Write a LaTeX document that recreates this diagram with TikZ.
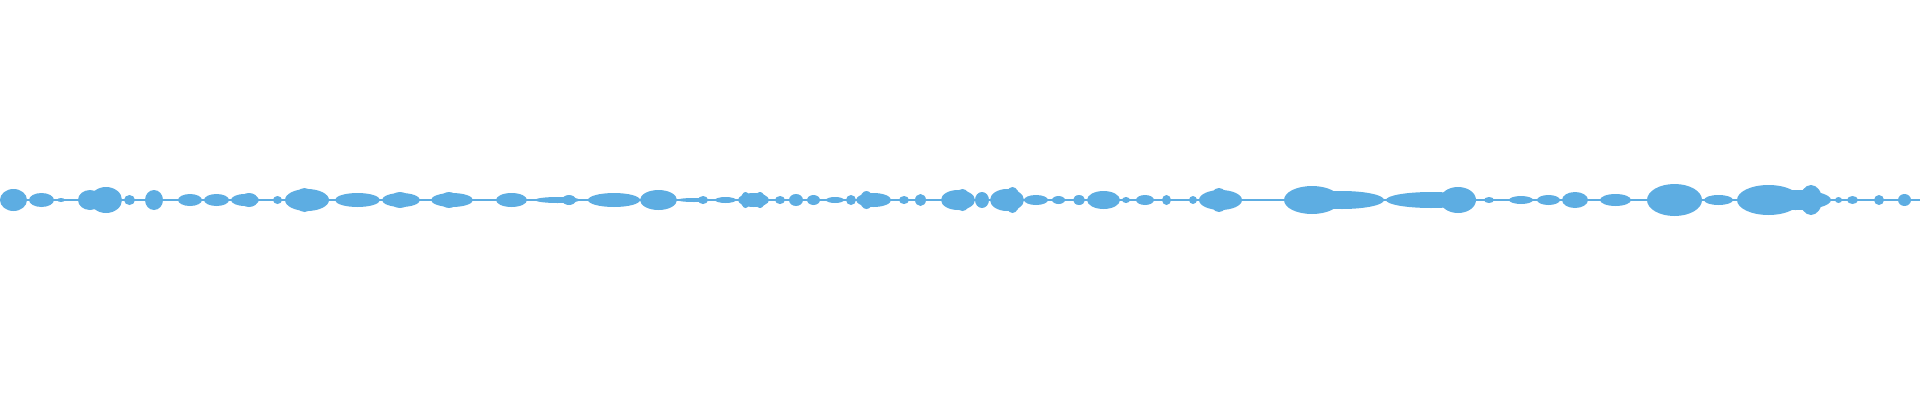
\documentclass[tikz,border=0pt]{standalone}
\usepackage{tikz}
\definecolor{wave}{RGB}{93,173,226}
\tikzset{every picture/.style={line width=0.75pt}}
\begin{document}
\begin{tikzpicture}[x=0.75pt,y=0.75pt,yscale=-1,xscale=1]
	\useasboundingbox (0,0) rectangle (1920,400);
	%Straight Lines: baseline
	\draw [color=wave, line width=1.2] (0,200) -- (1920,200) ;
	%Shapes: blobs (start/end/amplitude)
	\foreach \s/\e/\a in {0/27/11, 29/54/7, 57/65/2, 78/102/10, 90/122/13, 124/135/5, 145/163/10,
		178/202/6, 204/229/6, 231/259/6, 240/258/7, 273/282/4, 285/329/11, 295/314/12, 335/380/7,
		382/420/7, 390/410/8, 431/473/7, 440/458/8, 496/527/7, 535/580/3, 562/576/5, 588/640/7,
		640/677/10, 677/711/2, 698/708/4, 715/736/3, 738/769/7, 741/750/8, 755/765/8, 775/785/4,
		789/803/6, 807/820/5, 826/844/3, 846/856/5, 856/891/7, 860/873/9, 899/909/4, 915/926/6,
		941/975/10, 955/970/11, 975/989/8, 990/1024/11, 1005/1020/13, 1024/1048/5, 1052/1065/4,
		1073/1085/5, 1087/1120/9, 1122/1130/3, 1136/1154/5, 1162/1171/5, 1189/1197/4,
		1199/1242/10, 1210/1228/12, 1284/1340/14, 1300/1384/9, 1386/1476/8, 1440/1476/13,
		1484/1494/3, 1509/1533/4, 1537/1560/5, 1562/1588/8, 1600/1631/6, 1647/1702/16,
		1704/1733/5, 1737/1800/15, 1760/1831/10, 1800/1822/15, 1835/1842/3, 1847/1858/4,
		1874/1884/5, 1898/1911/6}
	{
		\path [fill=wave] ({(\s+\e)/2},200) ellipse ({(\e-\s)/2} and \a) ;
	}
\end{tikzpicture}
\end{document}
